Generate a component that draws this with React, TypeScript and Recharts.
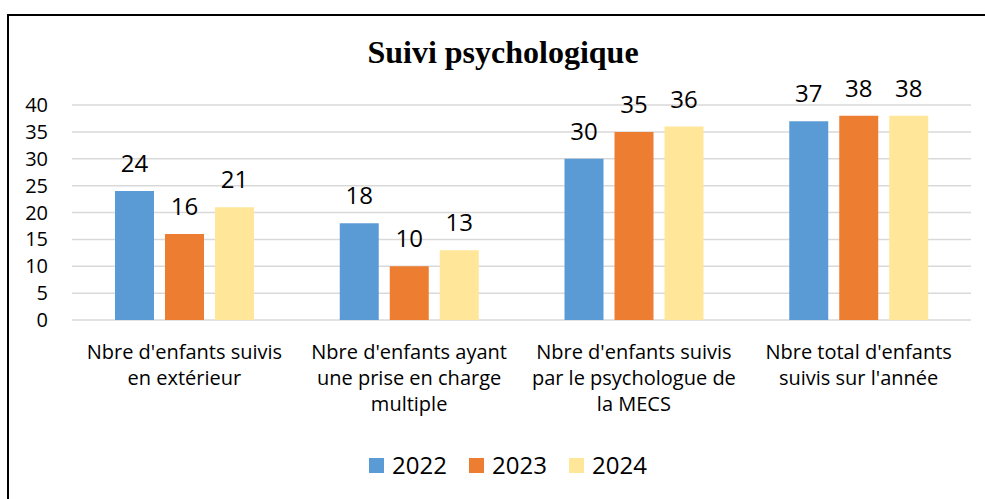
import React from "react";
import { BarChart, Bar, XAxis, YAxis, CartesianGrid, LabelList } from "recharts";

const categories = [
  "Nbre d'enfants suivis en extérieur",
  "Nbre d'enfants ayant une prise en charge multiple",
  "Nbre d'enfants suivis par le psychologue de la MECS",
  "Nbre total d'enfants suivis sur l'année",
];
const values2022 = [24, 18, 30, 37];
const values2023 = [16, 10, 35, 38];
const values2024 = [21, 13, 36, 38];
const yTicks = [0, 5, 10, 15, 20, 25, 30, 35, 40];
const seriesNames = ["2022", "2023", "2024"];
const seriesColors = ["#5B9BD5", "#ED7D31", "#FFE699"];
const title = "Suivi psychologique";

const data = categories.map((c, i) => ({
  name: c,
  "2022": values2022[i],
  "2023": values2023[i],
  "2024": values2024[i],
}));

const FONT = "'Open Sans', sans-serif";

function wrap(text: string, maxChars: number): string[] {
  const words = text.split(" ");
  const lines: string[] = [];
  let cur = "";
  for (const w of words) {
    const next = cur ? cur + " " + w : w;
    if (next.length > maxChars && cur) {
      lines.push(cur);
      cur = w;
    } else {
      cur = next;
    }
  }
  if (cur) lines.push(cur);
  return lines;
}

const CatTick = (props: any) => {
  const { x, y, payload } = props;
  const lines = wrap(String(payload.value), 21);
  return (
    <text x={x} y={y} textAnchor="middle" fontFamily={FONT} fontSize={20} fill="#000">
      {lines.map((l, i) => (
        <tspan key={i} x={x} dy={i === 0 ? 31 : 26}>
          {l}
        </tspan>
      ))}
    </text>
  );
};

export default function App() {
  return (
    <div
      style={{
        position: "absolute",
        left: 0,
        top: 0,
        width: 985,
        height: 499,
        overflow: "hidden",
        background: "#fff",
      }}
    >
      <div
        style={{
          position: "absolute",
          left: 7,
          top: 14,
          width: 1000,
          height: 520,
          borderTop: "2px solid #000",
          borderLeft: "2px solid #000",
          boxSizing: "border-box",
        }}
      />
      <div
        style={{
          position: "absolute",
          left: 0,
          width: 1006,
          top: 32,
          textAlign: "center",
          fontFamily: "'Liberation Serif', 'Times New Roman', serif",
          fontWeight: "bold",
          fontSize: 32,
          lineHeight: "40px",
          color: "#000",
        }}
      >
        {title}
      </div>
      <div style={{ position: "absolute", left: 0, top: 0 }}>
        <BarChart
          width={985}
          height={499}
          data={data}
          margin={{ top: 105, right: 14, left: 0, bottom: 79 }}
          barSize={39}
          barGap={11}
        >
          <CartesianGrid vertical={false} stroke="#d9d9d9" strokeWidth={1.5} />
          <XAxis
            dataKey="name"
            axisLine={false}
            tickLine={false}
            height={100}
            interval={0}
            tick={<CatTick />}
          />
          <YAxis
            domain={[0, 40]}
            ticks={yTicks}
            axisLine={false}
            tickLine={false}
            width={72}
            tickSize={6}
            tickMargin={18}
            tick={{ fontFamily: FONT, fontSize: 20, fill: "#000" }}
            interval={0}
          />
          {seriesNames.map((s, i) => (
            <Bar key={s} dataKey={s} fill={seriesColors[i]} isAnimationActive={false}>
              <LabelList
                dataKey={s}
                position="top"
                offset={19}
                fill="#000"
                fontFamily={FONT}
                fontSize={24}
              />
            </Bar>
          ))}
        </BarChart>
      </div>
      <div
        style={{
          position: "absolute",
          left: 369,
          top: 451,
          display: "flex",
          alignItems: "center",
          fontFamily: FONT,
          fontSize: 24,
          color: "#000",
        }}
      >
        {seriesNames.map((s, i) => (
          <div key={s} style={{ display: "flex", alignItems: "center", width: 100, height: 28 }}>
            <span
              style={{
                display: "inline-block",
                width: 15,
                height: 15,
                background: seriesColors[i],
                marginRight: 8,
              }}
            />
            <span style={{ lineHeight: "28px" }}>{s}</span>
          </div>
        ))}
      </div>
    </div>
  );
}
